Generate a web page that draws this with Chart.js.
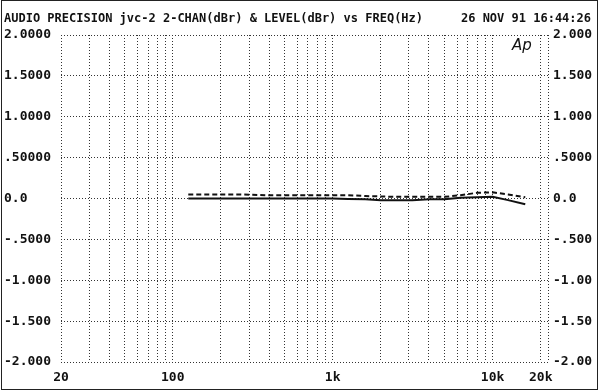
<!DOCTYPE html>
<html>
<head>
<meta charset="utf-8">
<script src="https://cdn.jsdelivr.net/npm/chart.js@4"></script>
<style>
  body { margin: 0; background: #fff; }
  #wrap { width: 600px; height: 392px; }
</style>
</head>
<body>
<div id="wrap"><canvas id="apChart" width="600" height="392"></canvas></div>
<script>
// sweep frequencies (Hz)
const freqs = [125, 160, 200, 250, 315, 400, 500, 630, 800, 1000, 1250, 1600, 2000, 2500, 3150, 4000, 5000, 6300, 8000, 10000, 12500, 16000];
// LEVEL (solid) and 2-CHAN (dashed), dBr
const levelDb = [0.0, 0.0, 0.0, 0.0, 0.0, 0.0, 0.0, 0.0, 0.0, 0.0, -0.005, -0.01, -0.02, -0.02, -0.02, -0.01, -0.01, 0.01, 0.015, 0.02, -0.02, -0.07];
const twoChanDb = [0.05, 0.05, 0.05, 0.05, 0.045, 0.04, 0.04, 0.04, 0.04, 0.04, 0.04, 0.03, 0.025, 0.02, 0.02, 0.02, 0.02, 0.04, 0.07, 0.075, 0.05, 0.015];

// axis stuff
const xGrid = [20, 30, 40, 50, 60, 70, 80, 90, 100, 200, 300, 400, 500, 600, 700, 800, 900,
  1000, 2000, 3000, 4000, 5000, 6000, 7000, 8000, 9000, 10000, 20000, 22200];
const xLabels = [[20, "20"], [100, "100"], [1000, "1k"], [10000, "10k"], [20000, "20k"]];
const yTicks = [2, 1.5, 1, 0.5, 0, -0.5, -1, -1.5, -2];
const yLeftLabels = ["2.0000", "1.5000", "1.0000", ".50000", "0.0", "-.5000", "-1.000", "-1.500", "-2.000"];
const yRightLabels = ["2.000", "1.500", "1.000", ".5000", "0.0", "-.500", "-1.00", "-1.50", "-2.00"];

const titleLeft = "AUDIO PRECISION jvc-2 2-CHAN(dBr) & LEVEL(dBr) vs FREQ(Hz)";
const titleRight = "26 NOV 91 16:44:26";

const monoFont = 'bold 13px "DejaVu Sans Mono", "Liberation Mono", monospace';
const ink = "#111";

const apText = {
  id: "apText",
  afterDraw(chart) {
    const ctx = chart.ctx;
    const xs = chart.scales.x, ys = chart.scales.y;
    ctx.save();
    ctx.fillStyle = ink;
    // header
    ctx.font = 'bold 12px "DejaVu Sans Mono", monospace';
    ctx.textBaseline = "alphabetic";
    ctx.textAlign = "left";
    ctx.fillText(titleLeft, 4, 22);
    ctx.textAlign = "right";
    ctx.fillText(titleRight, 591, 22);
    // y labels
    ctx.font = monoFont;
    ctx.textBaseline = "middle";
    yTicks.forEach((v, i) => {
      const py = ys.getPixelForValue(v);
      ctx.textAlign = "left";
      ctx.fillText(yLeftLabels[i], 4, py);
      ctx.fillText(yRightLabels[i], 553, py);
    });
    // x labels
    ctx.textAlign = "center";
    xLabels.forEach(([f, t]) => {
      ctx.fillText(t, xs.getPixelForValue(f), 378);
    });
    // Ap logo
    ctx.font = 'italic 15px "DejaVu Sans", sans-serif';
    ctx.textAlign = "left";
    ctx.fillText("Ap", 512, 46);
    // outer frame
    ctx.strokeStyle = "#222";
    ctx.lineWidth = 1;
    ctx.strokeRect(1.5, 0.5, 596, 389);
    ctx.restore();
  }
};

new Chart(document.getElementById("apChart").getContext("2d"), {
  type: "line",
  data: {
    datasets: [
      {
        label: "LEVEL",
        data: freqs.map((f, i) => ({ x: f, y: levelDb[i] })),
        borderColor: ink,
        borderWidth: 2,
        pointRadius: 0,
        tension: 0
      },
      {
        label: "2-CHAN",
        data: freqs.map((f, i) => ({ x: f, y: twoChanDb[i] })),
        borderColor: ink,
        borderWidth: 2,
        borderDash: [5, 3],
        pointRadius: 0,
        tension: 0
      }
    ]
  },
  options: {
    responsive: false,
    animation: false,
    layout: { padding: { left: 61, right: 52, top: 35, bottom: 30 } },
    plugins: { legend: { display: false }, tooltip: { enabled: false } },
    scales: {
      x: {
        type: "logarithmic",
        min: 20,
        max: 22200,
        afterBuildTicks: (s) => { s.ticks = xGrid.map(v => ({ value: v })); },
        ticks: { display: false },
        grid: { color: "#333", lineWidth: 1, drawTicks: false },
        border: { display: false, dash: [1, 2] }
      },
      y: {
        min: -2,
        max: 2,
        ticks: { display: false, stepSize: 0.5 },
        grid: { color: "#333", lineWidth: 1, drawTicks: false },
        border: { display: false, dash: [1, 2] }
      }
    }
  },
  plugins: [apText]
});
</script>
</body>
</html>
